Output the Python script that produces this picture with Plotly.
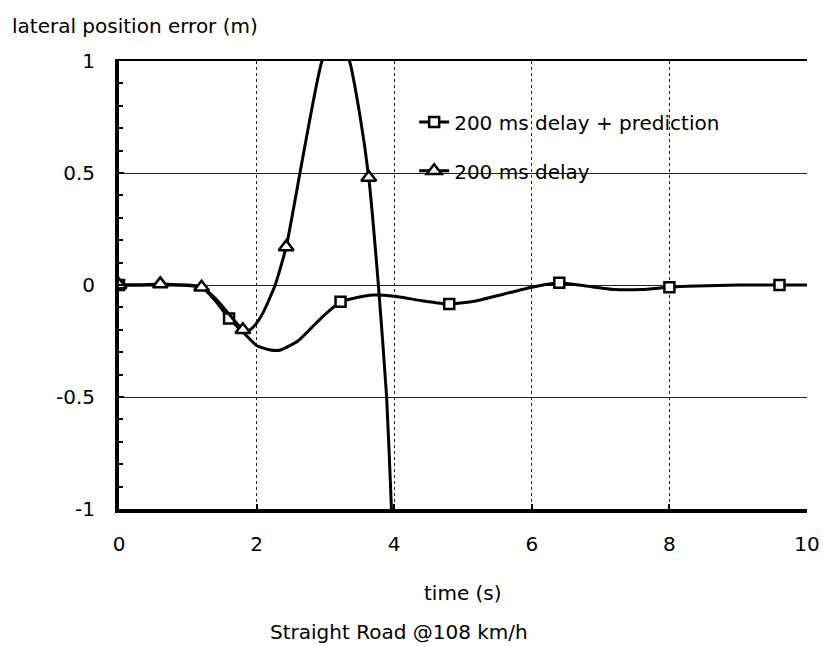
import plotly.graph_objects as go

# ---- data ----
pred_t = [0, 0.4, 0.8, 1.0, 1.2, 1.4, 1.6, 1.8, 2.0, 2.2, 2.35, 2.6, 2.8, 3.0, 3.22,
          3.4, 3.7, 4.0, 4.4, 4.8, 5.2, 5.6, 6.0, 6.4, 6.8, 7.2, 7.6, 8.0, 8.4, 9.0, 9.6, 10.0]
pred_y = [0, 0, 0, 0, -0.01, -0.07, -0.15, -0.21, -0.27, -0.29, -0.29, -0.25, -0.19, -0.13, -0.075,
          -0.06, -0.045, -0.05, -0.07, -0.085, -0.07, -0.04, -0.01, 0.01, -0.005, -0.02, -0.02, -0.01, -0.005, 0, 0, 0]
pred_mark_t = [0, 1.6, 3.22, 4.8, 6.4, 8.0, 9.6]
pred_mark_y = [0, -0.15, -0.075, -0.085, 0.01, -0.01, 0]

del_t = [0, 0.3, 0.6, 0.9, 1.2, 1.4, 1.6, 1.8, 1.9, 2.0, 2.1, 2.27, 2.43, 2.63, 2.78, 2.95,
         3.15, 3.35, 3.5, 3.63, 3.77, 3.89, 3.96, 4.02]
del_y = [0, 0, 0.005, 0, -0.01, -0.06, -0.13, -0.20, -0.20, -0.17, -0.12, 0.0, 0.17, 0.5, 0.75, 1.0,
         1.12, 1.0, 0.76, 0.48, 0.0, -0.5, -1.0, -1.5]
del_mark_t = [0, 0.6, 1.2, 1.8, 2.43, 3.0, 3.63]
del_mark_y = [0, 0.005, -0.01, -0.20, 0.17, 1.05, 0.48]

names = ["200 ms delay + prediction", "200 ms delay"]
x_ticks = [0, 2, 4, 6, 8, 10]
y_ticks = [-1, -0.5, 0, 0.5, 1]

FONT = "DejaVu Sans"
LW = 3

fig = go.Figure()

# prediction series
fig.add_trace(go.Scatter(x=pred_t, y=pred_y, mode="lines", line=dict(color="black", width=LW, shape="spline", smoothing=0.5),
                         showlegend=False, hoverinfo="skip"))
fig.add_trace(go.Scatter(x=pred_mark_t, y=pred_mark_y, mode="markers",
                         marker=dict(symbol="square", size=10, color="white", line=dict(color="black", width=2.5)),
                         showlegend=False))
# delay series
fig.add_trace(go.Scatter(x=del_t, y=del_y, mode="lines", line=dict(color="black", width=LW, shape="spline", smoothing=0.5),
                         showlegend=False, hoverinfo="skip"))
fig.add_trace(go.Scatter(x=del_mark_t, y=del_mark_y, mode="markers",
                         marker=dict(symbol="triangle-up", size=13, color="white", line=dict(color="black", width=2.5)),
                         showlegend=False))

# legend entries
fig.add_trace(go.Scatter(x=[None], y=[None], mode="lines+markers", name=names[0],
                         line=dict(color="black", width=LW),
                         marker=dict(symbol="square", size=10, color="white", line=dict(color="black", width=2.5)),
                         legend="legend"))
fig.add_trace(go.Scatter(x=[None], y=[None], mode="lines+markers", name=names[1],
                         line=dict(color="black", width=LW),
                         marker=dict(symbol="triangle-up", size=13, color="white", line=dict(color="black", width=2.5)),
                         legend="legend2"))

fig.update_layout(
    width=823, height=646,
    margin=dict(l=119, r=16, t=61, b=137),
    paper_bgcolor="white", plot_bgcolor="white",
    font=dict(family=FONT, size=20, color="black"),
    legend=dict(x=0.429, y=0.864, xanchor="left", yanchor="middle", bgcolor="rgba(0,0,0,0)",
                font=dict(family=FONT, size=20, color="black")),
    legend2=dict(x=0.429, y=0.755, xanchor="left", yanchor="middle", bgcolor="rgba(0,0,0,0)",
                 font=dict(family=FONT, size=20, color="black")),
    xaxis=dict(range=[0, 10], tickvals=x_ticks, ticktext=[str(v) for v in x_ticks],
               showline=True, linecolor="black", linewidth=4, automargin=False,
               showgrid=True, gridcolor="#222", gridwidth=1, griddash="dot",
               zeroline=False, ticks="inside", ticklen=5, tickwidth=2, tickcolor="black",
               ticklabelstandoff=14),
    xaxis2=dict(range=[0, 10], overlaying="x", side="top", showline=True, linecolor="black", linewidth=2,
                showgrid=False, showticklabels=False, ticks="", zeroline=False, automargin=False),
    yaxis=dict(range=[-1, 1], tickvals=y_ticks, ticktext=["-1", "-0.5", "0", "0.5", "1"],
               showline=True, linecolor="black", linewidth=4, automargin=False,
               showgrid=True, gridcolor="#222", gridwidth=1,
               zeroline=False, ticks="inside", ticklen=5, tickwidth=2, tickcolor="black",
               minor=dict(dtick=0.1, ticks="inside", ticklen=4, tickwidth=2, tickcolor="black", showgrid=False),
               ticklabelstandoff=16),
    annotations=[
        dict(text="lateral position error (m)", xref="paper", yref="paper", x=(10-119)/687, y=(509-26)/448,
             xanchor="left", yanchor="middle", showarrow=False, font=dict(family=FONT, size=20)),
        dict(text="time (s)", xref="paper", yref="paper", x=0.5, y=(509-593)/448,
             xanchor="center", yanchor="middle", showarrow=False, font=dict(family=FONT, size=20)),
        dict(text="Straight Road @108 km/h", xref="paper", yref="paper", x=(399-119)/687, y=(509-632)/448,
             xanchor="center", yanchor="middle", showarrow=False, font=dict(family=FONT, size=20)),
    ],
)
# dummy trace on the top axis so the frame line is drawn
fig.add_trace(go.Scatter(x=[None], y=[None], xaxis="x2", showlegend=False))

fig.write_html("out.html")
